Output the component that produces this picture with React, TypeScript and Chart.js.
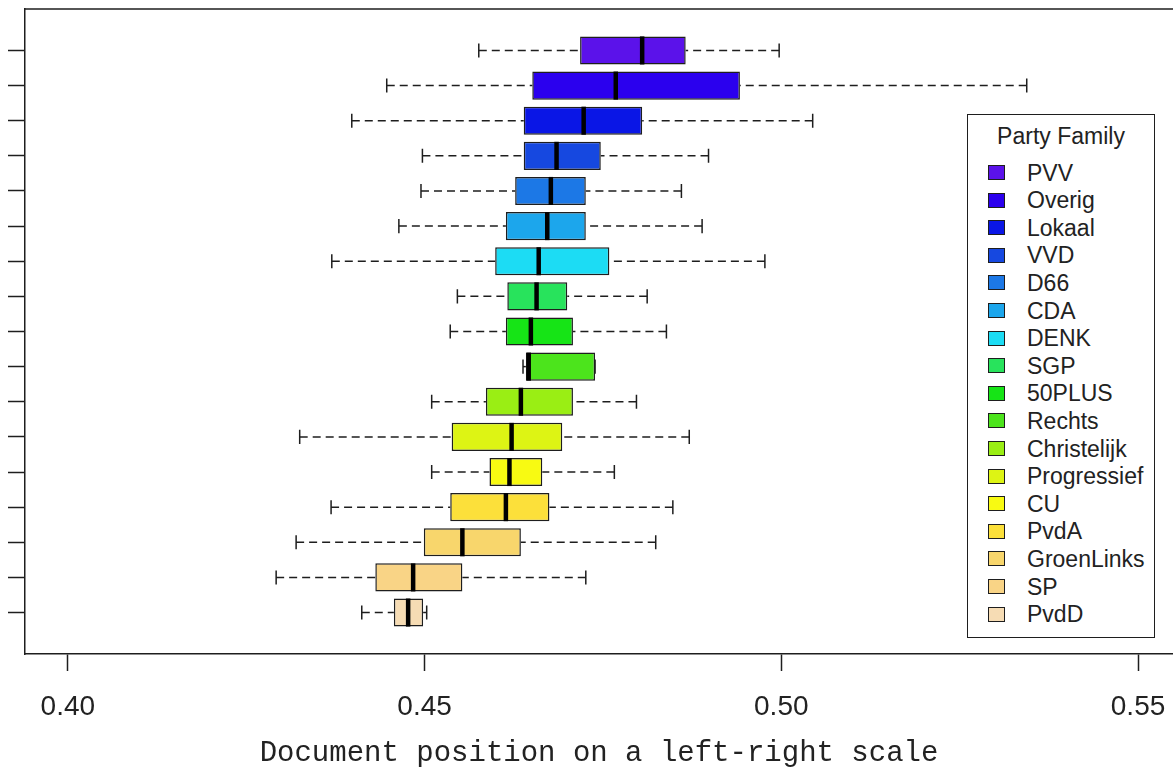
import React, { useEffect, useRef } from "react";
import { Chart, registerables } from "chart.js";

Chart.register(...registerables);

// ---- data (top row first) ----
const parties = [
  "PVV", "Overig", "Lokaal", "VVD", "D66", "CDA", "DENK", "SGP", "50PLUS",
  "Rechts", "Christelijk", "Progressief", "CU", "PvdA", "GroenLinks", "SP", "PvdD",
];
const whiskerLow = [
  0.4576, 0.4447, 0.4398, 0.4497, 0.4495, 0.4464, 0.437, 0.4546, 0.4536,
  0.4638, 0.451, 0.4325, 0.451, 0.4369, 0.432, 0.4292, 0.4412,
];
const quartile1 = [
  0.4718, 0.4651, 0.4639, 0.4639, 0.4627, 0.4614, 0.4599, 0.4616, 0.4614,
  0.4642, 0.4586, 0.4538, 0.4591, 0.4536, 0.4499, 0.4431, 0.4457,
];
const medians = [
  0.4805, 0.4768, 0.4723, 0.4685, 0.4677, 0.4672, 0.466, 0.4657, 0.4649,
  0.4646, 0.4635, 0.4622, 0.4619, 0.4614, 0.4553, 0.4484, 0.4477,
];
const quartile3 = [
  0.4866, 0.4942, 0.4805, 0.4747, 0.4726, 0.4726, 0.4759, 0.47, 0.4708,
  0.4739, 0.4708, 0.4693, 0.4665, 0.4675, 0.4635, 0.4553, 0.4498,
];
const whiskerHigh = [
  0.4997, 0.5344, 0.5044, 0.4898, 0.486, 0.4889, 0.4977, 0.4812, 0.4839,
  0.4739, 0.4797, 0.4871, 0.4766, 0.4848, 0.4824, 0.4726, 0.4503,
];
const colors = [
  "#5B12EA", "#2B00EE", "#0A16E6", "#1648E0", "#1C78E6", "#1CA6EC", "#1CDCF4",
  "#28E35C", "#16E416", "#4CE41C", "#9AEE14", "#DDF414", "#F8FA12", "#FCE03A",
  "#F8D66C", "#F9D486", "#F6DCB4",
];
const xTickValues = [0.4, 0.45, 0.5, 0.55];
const legendTitle = "Party Family";
const xAxisTitle = "Document position on a left-right scale";

const INK = "#1e1e1e";

const boxExtras = {
  id: "boxExtras",
  afterDatasetsDraw(chart: any) {
    const { ctx, scales, chartArea } = chart;
    const xs = scales.x;
    const ys = scales.y;
    const meta = chart.getDatasetMeta(0);
    ctx.save();
    ctx.strokeStyle = INK;
    parties.forEach((_, i) => {
      const bar = meta.data[i];
      const h = bar.height;
      const cy = ys.getPixelForValue(i + 1);
      const half = h / 2;
      const cap = h / 4;
      const xl = xs.getPixelForValue(whiskerLow[i]);
      const x1 = xs.getPixelForValue(quartile1[i]);
      const xm = xs.getPixelForValue(medians[i]);
      const x3 = xs.getPixelForValue(quartile3[i]);
      const xh = xs.getPixelForValue(whiskerHigh[i]);
      // dashed whiskers
      ctx.lineWidth = 1.5;
      ctx.setLineDash([8, 5]);
      ctx.beginPath();
      if (xl < x1) {
        ctx.moveTo(xl, cy);
        ctx.lineTo(x1, cy);
      }
      if (xh > x3) {
        ctx.moveTo(xh, cy);
        ctx.lineTo(x3, cy);
      }
      ctx.stroke();
      ctx.setLineDash([]);
      // staples
      ctx.beginPath();
      ctx.moveTo(xl, cy - cap);
      ctx.lineTo(xl, cy + cap);
      ctx.moveTo(xh, cy - cap);
      ctx.lineTo(xh, cy + cap);
      ctx.stroke();
      // median
      ctx.lineWidth = 4.5;
      ctx.strokeStyle = "#000";
      ctx.beginPath();
      ctx.moveTo(xm, cy - half);
      ctx.lineTo(xm, cy + half);
      ctx.stroke();
      ctx.strokeStyle = INK;
    });
    // top frame line
    ctx.lineWidth = 1.5;
    ctx.beginPath();
    ctx.moveTo(chartArea.left, chartArea.top);
    ctx.lineTo(chartArea.right, chartArea.top);
    ctx.stroke();
    ctx.restore();
  },
};

export default function App() {
  const canvasRef = useRef<HTMLCanvasElement | null>(null);

  useEffect(() => {
    if (!canvasRef.current) return;
    const chart = new Chart(canvasRef.current, {
      type: "bar",
      data: {
        datasets: [
          {
            data: parties.map((_, i) => ({ x: [quartile1[i], quartile3[i]], y: i + 1 })) as any,
            backgroundColor: colors,
            borderColor: INK,
            borderWidth: 1.5,
            borderSkipped: false,
            barPercentage: 0.8,
            categoryPercentage: 1,
          },
        ],
      },
      options: {
        indexAxis: "y",
        animation: false,
        responsive: false,
        devicePixelRatio: 1,
        layout: { padding: { top: 9, left: 0, right: 0, bottom: 0 } },
        plugins: { legend: { display: false }, tooltip: { enabled: false } },
        scales: {
          x: {
            type: "linear",
            min: 0.394,
            max: 0.5549,
            afterBuildTicks: (scale: any) => {
              scale.ticks = xTickValues.map((v) => ({ value: v }));
            },
            afterFit: (scale: any) => {
              scale.height = 120;
              scale.paddingLeft = 0;
              scale.paddingRight = 0;
            },
            grid: {
              drawOnChartArea: false,
              drawTicks: true,
              tickLength: 17,
              tickColor: INK,
              tickWidth: 1.5,
            },
            border: { display: true, color: INK, width: 1.5 },
            ticks: {
              padding: 19,
              color: "#222",
              font: { family: "'Liberation Sans', Arial, sans-serif", size: 28 },
              callback: (v: any) => Number(v).toFixed(2),
              maxRotation: 0,
              autoSkip: false,
            },
            title: {
              display: true,
              text: xAxisTitle,
              color: "#222",
              font: { family: "'Liberation Mono', 'Courier New', monospace", size: 29 },
              padding: { top: 0, bottom: 3 },
            },
          },
          y: {
            type: "linear",
            reverse: true,
            offset: false,
            min: -0.18,
            max: 18.18,
            afterBuildTicks: (scale: any) => {
              scale.ticks = parties.map((_, i) => ({ value: i + 1 }));
            },
            afterFit: (scale: any) => {
              scale.width = 25;
              scale.paddingTop = 0;
              scale.paddingBottom = 0;
            },
            grid: {
              offset: false,
              drawOnChartArea: false,
              drawTicks: true,
              tickLength: 17,
              tickColor: INK,
              tickWidth: 1.5,
            },
            border: { display: true, color: INK, width: 1.5 },
            ticks: { display: false },
          },
        },
      },
      plugins: [boxExtras],
    });
    return () => chart.destroy();
  }, []);

  const legendTop = 114;
  const legendLeft = 967;

  return (
    <div
      style={{
        position: "fixed",
        left: 0,
        top: 0,
        width: 1173,
        height: 774,
        background: "#fff",
        overflow: "hidden",
      }}
    >
      <canvas ref={canvasRef} width={1173} height={774} style={{ display: "block" }} />
      <div
        style={{
          position: "absolute",
          left: legendLeft,
          top: legendTop,
          width: 188,
          height: 524,
          border: `1.5px solid ${INK}`,
          background: "#fff",
          boxSizing: "border-box",
          fontFamily: "'Liberation Sans', Arial, sans-serif",
          color: "#222",
        }}
      >
        <div
          style={{
            position: "absolute",
            left: 0,
            width: "100%",
            top: 21 - 14,
            height: 28,
            lineHeight: "28px",
            fontSize: 23,
            textAlign: "center",
            whiteSpace: "nowrap",
          }}
        >
          {legendTitle}
        </div>
        {parties.map((p, i) => {
          const cy = 57.5 + i * 27.6;
          return (
            <React.Fragment key={p}>
              <div
                style={{
                  position: "absolute",
                  left: 20,
                  top: cy - 7.5,
                  width: 17,
                  height: 15,
                  background: colors[i],
                  border: `1.5px solid ${INK}`,
                  boxSizing: "border-box",
                }}
              />
              <div
                style={{
                  position: "absolute",
                  left: 59,
                  top: cy - 14,
                  height: 28,
                  lineHeight: "28px",
                  fontSize: 23,
                  whiteSpace: "nowrap",
                }}
              >
                {p}
              </div>
            </React.Fragment>
          );
        })}
      </div>
    </div>
  );
}
